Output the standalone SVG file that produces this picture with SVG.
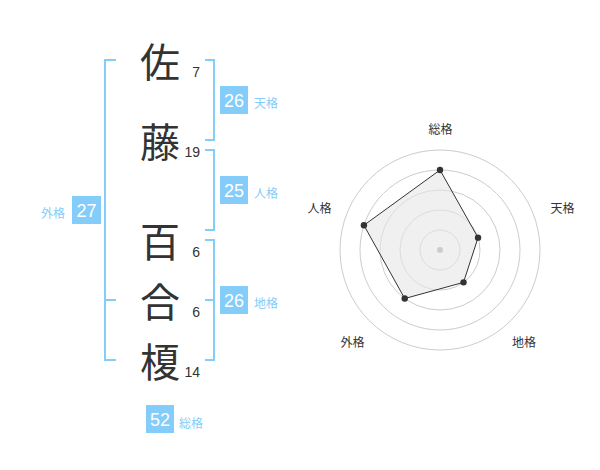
<svg xmlns="http://www.w3.org/2000/svg" width="600" height="470" viewBox="0 0 600 470">
<style>
.kanji{font-family:"Noto Sans CJK JP","Noto Sans CJK SC",sans-serif;font-size:40px;fill:#333;text-anchor:middle;dominant-baseline:central}
.num{font-family:"Liberation Sans",Arial,sans-serif;font-size:14px;fill:#333;text-anchor:end}
.br{fill:none;stroke:#84ccfa;stroke-width:2}
.box{fill:#84ccfa}
.bnum{font-family:"Liberation Sans",Arial,sans-serif;font-size:18px;fill:#fff;text-anchor:middle}
.lbl{font-family:"Noto Sans CJK JP",sans-serif;font-size:12px;fill:#84ccfa}
.ring{fill:none;stroke:#ccc;stroke-width:1}
.ax{font-family:"Noto Sans CJK JP",sans-serif;font-size:12px;fill:#333;text-anchor:middle}
.dot{fill:#333}
</style>
<rect width="600" height="470" fill="#fff"/>
<g id="connectors">
<polyline class="br" points="116,60 105,60 105,360 116,360"/>
<line class="br" x1="105" y1="300" x2="116" y2="300"/>
<polyline class="br" points="205,60 214,60 214,140 205,140"/>
<polyline class="br" points="205,150 214,150 214,230 205,230"/>
<polyline class="br" points="205,240 214,240 214,360 205,360"/>
<line class="br" x1="205" y1="300" x2="214" y2="300"/>
</g>
<g id="char-sa"><text class="kanji" x="160" y="60">佐</text><text class="num" x="200" y="77">7</text></g>
<g id="char-to"><text class="kanji" x="160" y="140">藤</text><text class="num" x="200" y="157">19</text></g>
<g id="char-hyaku"><text class="kanji" x="160" y="240">百</text><text class="num" x="200" y="257">6</text></g>
<g id="char-go"><text class="kanji" x="160" y="300">合</text><text class="num" x="200" y="317">6</text></g>
<g id="char-enoki"><text class="kanji" x="160" y="360">榎</text><text class="num" x="200" y="377">14</text></g>
<g id="tenkaku"><rect class="box" x="220" y="86" width="28" height="28"/><text class="bnum" x="234" y="106.5">26</text><text class="lbl" x="254" y="108">天格</text></g>
<g id="jinkaku"><rect class="box" x="220" y="176" width="28" height="28"/><text class="bnum" x="234" y="196.5">25</text><text class="lbl" x="254" y="198">人格</text></g>
<g id="chikaku"><rect class="box" x="220" y="286" width="28" height="28"/><text class="bnum" x="234" y="306.5">26</text><text class="lbl" x="254" y="308">地格</text></g>
<g id="gaikaku"><rect class="box" x="72" y="196" width="29" height="28"/><text class="bnum" x="86.5" y="216.5">27</text><text class="lbl" x="41" y="218">外格</text></g>
<g id="soukaku"><rect class="box" x="146" y="405" width="28" height="28"/><text class="bnum" x="160" y="425.5">52</text><text class="lbl" x="179" y="428">総格</text></g>
<g id="radar">
<circle class="ring" cx="440" cy="250" r="20"/>
<circle class="ring" cx="440" cy="250" r="40"/>
<circle class="ring" cx="440" cy="250" r="60"/>
<circle class="ring" cx="440" cy="250" r="80"/>
<circle class="ring" cx="440" cy="250" r="100"/>
<polygon points="440,170 478.04,237.64 463.51,282.36 404.73,298.54 363.92,225.28" fill="#e6e6e6" fill-opacity="0.6" stroke="#333" stroke-width="1"/>
<circle cx="440" cy="250" r="3" fill="#ccc"/>
<circle class="dot" cx="440" cy="170" r="3.2"/>
<circle class="dot" cx="478.04" cy="237.64" r="3.2"/>
<circle class="dot" cx="463.51" cy="282.36" r="3.2"/>
<circle class="dot" cx="404.73" cy="298.54" r="3.2"/>
<circle class="dot" cx="363.92" cy="225.28" r="3.2"/>
<text class="ax" x="440.5" y="134">総格</text>
<text class="ax" x="562.5" y="213">天格</text>
<text class="ax" x="319.5" y="213">人格</text>
<text class="ax" x="352.5" y="347">外格</text>
<text class="ax" x="524" y="347">地格</text>
</g>
</svg>
